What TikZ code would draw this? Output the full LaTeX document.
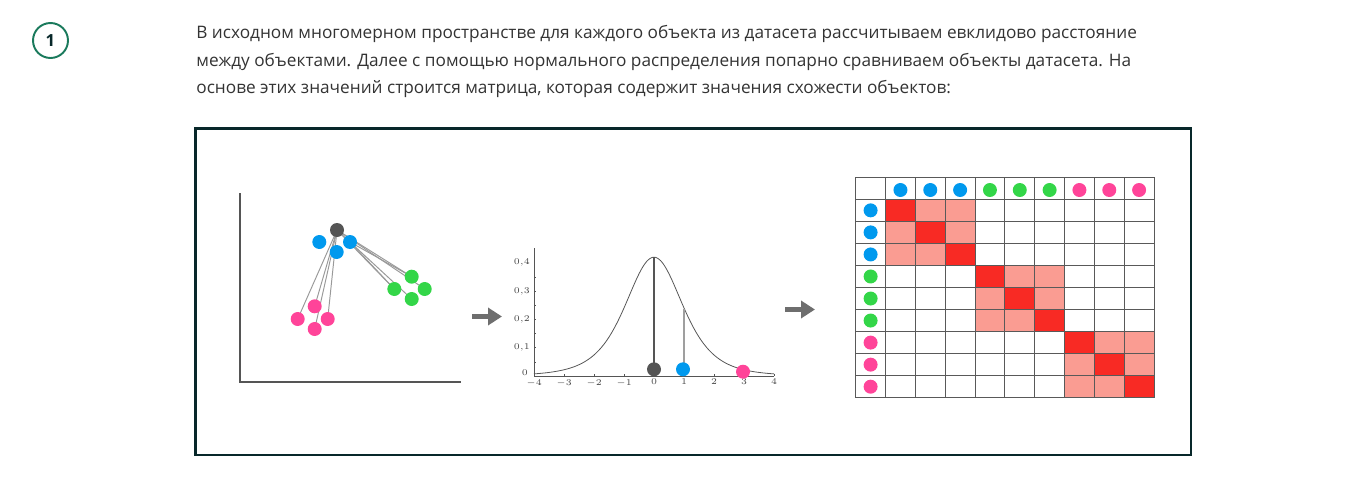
\documentclass[tikz,border=0pt]{standalone}
\usepackage[no-math]{fontspec}
\setmainfont{Open Sans}
\usetikzlibrary{arrows.meta, positioning, calc}

\definecolor{txtgray}{RGB}{51,51,51}
\definecolor{frameteal}{RGB}{8,40,42}
\definecolor{stepgreen}{RGB}{26,122,92}
\definecolor{dotblue}{RGB}{0,153,238}
\definecolor{dotgreen}{RGB}{51,214,72}
\definecolor{dotpink}{RGB}{255,68,153}
\definecolor{dotgray}{RGB}{85,85,85}
\definecolor{cellred}{RGB}{248,42,36}
\definecolor{cellpink}{RGB}{250,156,146}

\begin{document}
\begin{tikzpicture}[x=0.02cm, y=-0.02cm,
        para/.style={anchor=base west, inner sep=0pt, text=txtgray, font=\fontsize{9.8}{12}\selectfont},
        stepmark/.style={circle, draw=stepgreen, line width=1.1pt, minimum size=0.7cm, inner sep=0pt, text=frameteal, font=\fontsize{9.5}{11}\selectfont\bfseries},
        dot/.style={circle, inner sep=0pt, minimum size=0.28cm},
        axisline/.style={draw=dotgray, line width=0.8pt},
        distline/.style={draw=gray!80, line width=0.55pt},
        ticklabel/.style={inner sep=0.5pt, text=dotgray!80!black, font=\fontsize{5.2}{6}\selectfont},
        steparrow/.style={-{Triangle[length=0.28cm, width=0.34cm]}, line width=2.4pt, draw=dotgray!85}]

      \useasboundingbox (0,0) rectangle (1345,490);

      % 1. Step number and text
      \node [stepmark] (num) at (50.5,40.5) {1};
      \node [para] (line1) at (196,38.5) {В исходном многомерном пространстве для каждого объекта из датасета рассчитываем евклидово расстояние};
      \node [para] (line2) at (196,66) {между объектами. Далее с помощью нормального распределения попарно сравниваем объекты датасета. На};
      \node [para] (line3) at (196,93.5) {основе этих значений строится матрица, которая содержит значения схожести объектов:};

      % 2. Frame
      \draw [frameteal, line width=1.5pt] (195.5,128.5) rectangle (1191,455);

      % 3. Scatter plot
      \coordinate (sOrig) at (240,382);
      \draw [axisline] (240,193) -- (sOrig) -- (461,382);

      \coordinate (c0) at (337,230);
      \coordinate (cg1) at (411.7,276.7);
      \coordinate (cg2) at (394.3,289);
      \coordinate (cg3) at (424.7,289);
      \coordinate (cg4) at (411.7,299);
      \coordinate (cp1) at (314.7,306.3);
      \coordinate (cp2) at (297.7,319);
      \coordinate (cp3) at (327.7,319);
      \coordinate (cp4) at (314.7,329);

      \foreach \t in {cg1,cg2,cg3,cg4,cp1,cp2,cp3,cp4}
        \draw [distline] (c0) -- (\t);
      \draw [distline] (350,242) -- (cg1);
      \draw [distline] (350,242) -- (cg2);

      \node [dot, fill=dotgray] (s0) at (c0) {};
      \node [dot, fill=dotblue] (sb1) at (319.3,242) {};
      \node [dot, fill=dotblue] (sb2) at (350,242) {};
      \node [dot, fill=dotblue] (sb3) at (336.7,252) {};
      \node [dot, fill=dotgreen] (sg1) at (cg1) {};
      \node [dot, fill=dotgreen] (sg2) at (cg2) {};
      \node [dot, fill=dotgreen] (sg3) at (cg3) {};
      \node [dot, fill=dotgreen] (sg4) at (cg4) {};
      \node [dot, fill=dotpink] (sp1) at (cp1) {};
      \node [dot, fill=dotpink] (sp2) at (cp2) {};
      \node [dot, fill=dotpink] (sp3) at (cp3) {};
      \node [dot, fill=dotpink] (sp4) at (cp4) {};

      % 4. Arrows between panels
      \coordinate (a1s) at (472,316.5);
      \coordinate (a1e) at (502,316.5);
      \coordinate (a2s) at (785,309.5);
      \coordinate (a2e) at (815,309.5);
      \draw [steparrow] (a1s) -- (a1e);
      \draw [steparrow] (a2s) -- (a2e);

      % 5. Normal distribution
      \draw [dotgray, line width=0.4pt] (534,376) -- (774,376);
      \draw [dotgray, line width=0.4pt] (534,376) -- (534,248);
      \foreach \k in {-4,...,4} {
        \draw [dotgray, line width=0.3pt] ({654+30*\k},376) -- ++(0,-2.5);
        \node [ticklabel, anchor=north] at ({654+30*\k},378) {$\k$};
      }
      \foreach \k in {1,...,7}
        \draw [dotgray, line width=0.3pt] (534,{376-28.3*\k/2}) -- ++(2,0);
      \foreach \k/\lab in {1/{0{,}1},2/{0{,}2},3/{0{,}3},4/{0{,}4}}
        \node [ticklabel, anchor=east] at (531,{376-28.3*\k}) {$\lab$};
      \node [ticklabel, anchor=east] (zero) at (529,373) {$0$};
      \draw [dotgray, line width=0.45pt, domain=-4:4, samples=90, smooth]
        plot ({654+30*\x}, {376-283*0.42*(1+((\x)*(\x))/4)^(-2.5)});
      \draw [dotgray, line width=0.6pt] (654,376) -- (654,257);
      \draw [gray!75, line width=1pt] (684,369) -- (684,308.5);

      \node [dot, fill=dotgray] (n0) at (654,369.3) {};
      \node [dot, fill=dotblue] (n1) at (683,369.3) {};
      \node [dot, fill=dotpink] (n3) at (743,371.7) {};

      % 6. Similarity matrix
      \foreach \g in {0,1,2}
        \fill [cellpink] ({855.7+29.83*(1+3*\g)},{177.3+22.04*(1+3*\g)}) rectangle ++(89.5,66.1);
      \foreach \k in {1,...,9}
        \fill [cellred] ({855.7+29.83*\k},{177.3+22.04*\k}) rectangle ++(29.83,22.04);
      \foreach \k in {0,...,10} {
        \draw [black!65, line width=0.55pt] ({855.7+29.83*\k},177.3) -- ++(0,220.4);
        \draw [black!65, line width=0.55pt] (855.7,{177.3+22.04*\k}) -- ++(298.3,0);
      }
      \foreach \k/\col in {1/dotblue,2/dotblue,3/dotblue,4/dotgreen,5/dotgreen,6/dotgreen,7/dotpink,8/dotpink,9/dotpink} {
        \node [dot, fill=\col] (mh\k) at ({855.7+29.83*(\k+0.5)},190) {};
        \node [dot, fill=\col] (mv\k) at (870.6,{177.3+22.04*(\k+0.5)}) {};
      }
    \end{tikzpicture}
\end{document}
